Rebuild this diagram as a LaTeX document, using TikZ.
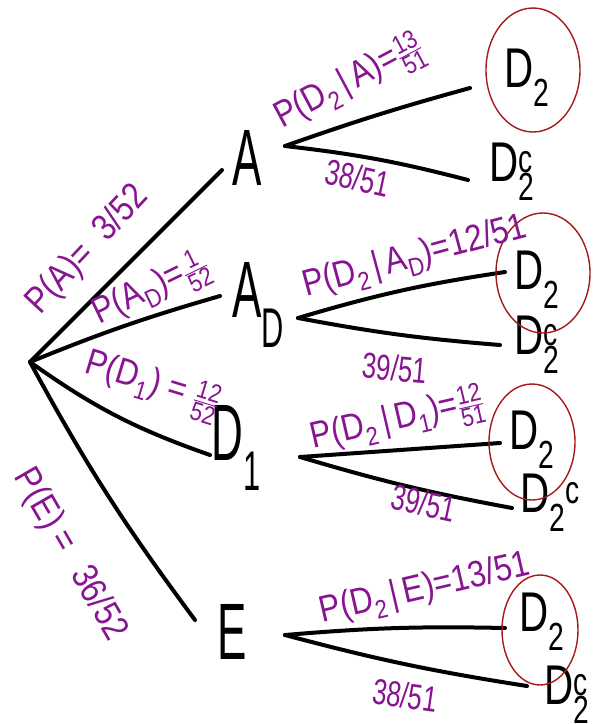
\documentclass[tikz,border=0pt]{standalone}
\usepackage{fontspec}
\setmainfont{Liberation Sans}
\usepackage{amsmath}
\usetikzlibrary{calc}
\definecolor{pur}{RGB}{135,20,145}
\definecolor{circ}{RGB}{165,25,25}
\newcommand\myfr[2]{$\genfrac{}{}{0.9pt}{}{\text{#1}}{\text{#2}}$}
\begin{document}
\begin{tikzpicture}[x=1pt,y=-1pt,
  big/.style={font=\fontsize{80}{80}\selectfont, xscale=0.55, inner sep=1pt},
  leaf/.style={font=\fontsize{56}{56}\selectfont, xscale=0.72, inner sep=1pt},
  lab/.style={text=pur, font=\fontsize{37}{37}\selectfont, xscale=0.85, inner sep=0pt},
  num/.style={text=pur, font=\fontsize{36}{36}\selectfont, xscale=0.72, inner sep=0pt},
  br/.style={line width=4pt, line cap=round},
  ring/.style={draw=circ, line width=1.4pt}]
\useasboundingbox (0,0) rectangle (594,724);

\coordinate (root) at (30,362);
\node[big] (A)  at (247,158) {A};
\node[big] (AD) at (258,305) {A\textsubscript{D}};
\node[big] (D1) at (236,448) {D\textsubscript{1}};
\node[big] (E)  at (232,632) {E};

\node[leaf] (a1) at (527,78)  {D\textsubscript{2}};
\node[leaf] (a2) at (512,172) {D\rlap{\textsuperscript{c}}\textsubscript{2}};
\node[leaf] (b1) at (537,280) {D\textsubscript{2}};
\node[leaf] (b2) at (537,345) {D\rlap{\textsuperscript{c}}\textsubscript{2}};
\node[leaf] (c1) at (532,440) {D\textsubscript{2}};
\node[leaf] (c2) at (550,503) {D\textsubscript{2}\textsuperscript{c}};
\node[leaf] (e1) at (542,622) {D\textsubscript{2}};
\node[leaf] (e2) at (567,695) {D\rlap{\textsuperscript{c}}\textsubscript{2}};

% first level branches
\draw[br] (root) -- ($(A)+(-25,12)$);
\draw[br] (root) to[bend left=3] ($(AD)+(-38,-9)$);
\draw[br] (root) to[bend right=8] ($(D1)+(-26,7)$);
\draw[br] (root) to[bend right=4] ($(E)+(-37,-12)$);

% second level branches
\draw[br] ($(A)+(38,-12)$) to[bend left=2] ($(a1)+(-57,10)$);
\draw[br] ($(A)+(38,-12)$) to[bend left=4] ($(a2)+(-44,8)$);
\draw[br] ($(AD)+(40,13)$) to[bend left=4] ($(b1)+(-32,-8)$);
\draw[br] ($(AD)+(40,13)$) to[bend right=3] ($(b2)+(-37,0)$);
\draw[br] ($(D1)+(64,9)$) -- ($(c1)+(-32,3)$);
\draw[br] ($(D1)+(64,9)$) to[bend right=3] ($(c2)+(-38,5)$);
\draw[br] ($(E)+(53,3)$) to[bend left=3] ($(e1)+(-37,6)$);
\draw[br] ($(E)+(53,3)$) to[bend right=3] ($(e2)+(-40,-9)$);

% circles
\draw[ring] ($(a1)+(6,-8)$) ellipse [x radius=47, y radius=62];
\draw[ring] ($(b1)+(6,-7)$) ellipse [x radius=47, y radius=60];
\draw[ring] ($(c1)+(0,2)$) ellipse [x radius=43, y radius=58];
\draw[ring] ($(e1)+(-2,8)$) ellipse [x radius=38, y radius=55];

% labels on first level
\node[rotate=47, lab] (l1) at (88,250) {P(A)=\;\;3/52};
\node[rotate=26, lab] (l2) at (152,291) {P(A\textsubscript{D})=\myfr{1}{52}};
\node[rotate=-17, lab] (l3) at (152,386) {P(D\textsubscript{1}) = \myfr{12}{52}};
\node[rotate=-60, lab] (l4) at (70,555) {P(E) =\;\, 36/52};

% labels on second level
\node[rotate=28, lab] (m1) at (350,84) {P(D\textsubscript{2}\,|\,A)=\myfr{13}{51}};
\node[rotate=-12, num] (m2) at (358,178) {38/51};
\node[rotate=15, lab] (m3) at (415,258) {P(D\textsubscript{2}\,|\,A\textsubscript{D})=12/51};
\node[rotate=-5, num] (m4) at (395,368) {39/51};
\node[rotate=13, lab] (m5) at (398,422) {P(D\textsubscript{2}\,|\,D\textsubscript{1})=\myfr{12}{51}};
\node[rotate=-12, num] (m6) at (424,503) {39/51};
\node[rotate=13, lab] (m7) at (425,590) {P(D\textsubscript{2}\,|\,E)=13/51};
\node[rotate=-8, num] (m8) at (405,695) {38/51};
\end{tikzpicture}
\end{document}
